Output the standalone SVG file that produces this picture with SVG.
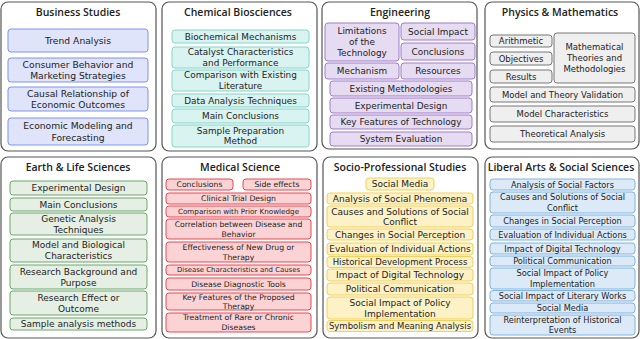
<svg xmlns="http://www.w3.org/2000/svg" width="640" height="339" viewBox="0 0 640 339">
<style>
text{font-family:"DejaVu Sans","Liberation Sans",sans-serif;fill:#222;text-anchor:middle;dominant-baseline:central}
.panel{fill:#fff;stroke:#555;stroke-width:1.2}
.title{font-family:"Open Sans","Noto Sans",sans-serif;font-size:10.5px;font-weight:600}
rect.b{rx:3;stroke-width:1}
.bus{fill:#dfe4fb;stroke:#7f93ec}
.chem{fill:#d9f3f0;stroke:#86d6cc}
.eng{fill:#e6dcf2;stroke:#a07cc8}
.phy{fill:#efefef;stroke:#777}
.earth{fill:#e6efe3;stroke:#6aa86a}
.med{fill:#fbd3d4;stroke:#e84850}
.soc{fill:#fdf2c6;stroke:#f3cf5c}
.lib{fill:#dceaf8;stroke:#7fb3e0}
.t92{font-size:9.2px}
.t9{font-size:9px}
.t89{font-size:8.9px}
.t85{font-size:8.5px}
.t82{font-size:8.2px}
.t77{font-size:7.7px}
.t72{font-size:7.2px}
.t69{font-size:6.9px}
</style>

<g id="panel-business">
<rect class="panel" x="1" y="2" width="155" height="149" rx="7"/>
<text class="title" x="78" y="11.5">Business Studies</text>
<rect class="b bus" x="8" y="29" width="140" height="23"/>
<text class="t92" x="78" y="40.5">Trend Analysis</text>
<rect class="b bus" x="8" y="58" width="140" height="24"/>
<text class="t92" x="78" y="64.5">Consumer Behavior and</text>
<text class="t92" x="78" y="75.5">Marketing Strategies</text>
<rect class="b bus" x="8" y="87" width="140" height="24"/>
<text class="t92" x="78" y="93.5">Causal Relationship of</text>
<text class="t92" x="78" y="104.5">Economic Outcomes</text>
<rect class="b bus" x="8" y="118" width="140" height="27"/>
<text class="t92" x="78" y="125.5">Economic Modeling and</text>
<text class="t92" x="78" y="137">Forecasting</text>
</g>

<g id="panel-chemical">
<rect class="panel" x="162" y="2" width="155" height="149" rx="7"/>
<text class="title" x="238" y="11.5">Chemical Biosciences</text>
<rect class="b chem" x="172" y="30" width="137" height="13"/>
<text class="t89" x="240.5" y="36.5">Biochemical Mechanisms</text>
<rect class="b chem" x="172" y="47" width="137" height="21"/>
<text class="t89" x="240.5" y="52">Catalyst Characteristics</text>
<text class="t89" x="240.5" y="62.5">and Performance</text>
<rect class="b chem" x="172" y="70" width="137" height="21"/>
<text class="t89" x="240.5" y="75">Comparison with Existing</text>
<text class="t89" x="240.5" y="85.5">Literature</text>
<rect class="b chem" x="172" y="94" width="137" height="13"/>
<text class="t89" x="240.5" y="100.5">Data Analysis Techniques</text>
<rect class="b chem" x="172" y="109" width="137" height="14"/>
<text class="t89" x="240.5" y="116">Main Conclusions</text>
<rect class="b chem" x="172" y="125" width="137" height="22"/>
<text class="t89" x="240.5" y="130.5">Sample Preparation</text>
<text class="t89" x="240.5" y="141">Method</text>
</g>

<g id="panel-engineering">
<rect class="panel" x="322" y="2" width="155" height="147" rx="7"/>
<text class="title" x="400" y="11.5">Engineering</text>
<rect class="b eng" x="325" y="23" width="74" height="38"/>
<text class="t89" x="362" y="31">Limitations</text>
<text class="t89" x="362" y="42">of the</text>
<text class="t89" x="362" y="53">Technology</text>
<rect class="b eng" x="401" y="23" width="74" height="17"/>
<text class="t89" x="438" y="31.5">Social Impact</text>
<rect class="b eng" x="401" y="43" width="74" height="17"/>
<text class="t89" x="438" y="51.5">Conclusions</text>
<rect class="b eng" x="325" y="63" width="74" height="16"/>
<text class="t89" x="362" y="71">Mechanism</text>
<rect class="b eng" x="401" y="63" width="74" height="16"/>
<text class="t89" x="438" y="71">Resources</text>
<rect class="b eng" x="330" y="81" width="142" height="15"/>
<text class="t89" x="401" y="88.5">Existing Methodologies</text>
<rect class="b eng" x="330" y="98" width="142" height="15"/>
<text class="t89" x="401" y="105.5">Experimental Design</text>
<rect class="b eng" x="330" y="115" width="142" height="14"/>
<text class="t89" x="401" y="122">Key Features of Technology</text>
<rect class="b eng" x="330" y="132" width="142" height="14"/>
<text class="t89" x="401" y="139">System Evaluation</text>
</g>

<g id="panel-physics">
<rect class="panel" x="485" y="2" width="154" height="147" rx="7"/>
<text class="title" x="560" y="11.5">Physics &amp; Mathematics</text>
<rect class="b phy" x="490" y="35" width="62" height="12"/>
<text class="t85" x="521" y="41">Arithmetic</text>
<rect class="b phy" x="490" y="52" width="62" height="13"/>
<text class="t85" x="521" y="58.5">Objectives</text>
<rect class="b phy" x="490" y="70" width="62" height="13"/>
<text class="t85" x="521" y="76.5">Results</text>
<rect class="b phy" x="554" y="33" width="81" height="50"/>
<text class="t85" x="594.5" y="47">Mathematical</text>
<text class="t85" x="594.5" y="58">Theories and</text>
<text class="t85" x="594.5" y="69">Methodologies</text>
<rect class="b phy" x="490" y="87" width="145" height="15"/>
<text class="t85" x="562.5" y="94.5">Model and Theory Validation</text>
<rect class="b phy" x="490" y="106" width="145" height="16"/>
<text class="t85" x="562.5" y="114">Model Characteristics</text>
<rect class="b phy" x="490" y="126" width="145" height="16"/>
<text class="t85" x="562.5" y="134">Theoretical Analysis</text>
</g>

<g id="panel-earth">
<rect class="panel" x="1" y="157" width="155" height="181" rx="7"/>
<text class="title" x="78" y="167">Earth &amp; Life Sciences</text>
<rect class="b earth" x="10" y="181" width="137" height="14"/>
<text class="t9" x="78.5" y="188">Experimental Design</text>
<rect class="b earth" x="10" y="198" width="137" height="13"/>
<text class="t9" x="78.5" y="204.5">Main Conclusions</text>
<rect class="b earth" x="10" y="213" width="137" height="22"/>
<text class="t9" x="78.5" y="218.5">Genetic Analysis</text>
<text class="t9" x="78.5" y="229.5">Techniques</text>
<rect class="b earth" x="10" y="239" width="137" height="23"/>
<text class="t9" x="78.5" y="245">Model and Biological</text>
<text class="t9" x="78.5" y="256">Characteristics</text>
<rect class="b earth" x="10" y="265" width="137" height="24"/>
<text class="t9" x="78.5" y="271.5">Research Background and</text>
<text class="t9" x="78.5" y="282.5">Purpose</text>
<rect class="b earth" x="10" y="291" width="137" height="24"/>
<text class="t9" x="78.5" y="297.5">Research Effect or</text>
<text class="t9" x="78.5" y="308.5">Outcome</text>
<rect class="b earth" x="10" y="318" width="137" height="12"/>
<text class="t9" x="78.5" y="324">Sample analysis methods</text>
</g>

<g id="panel-medical">
<rect class="panel" x="162" y="157" width="155" height="181" rx="7"/>
<text class="title" x="240" y="167">Medical Science</text>
<rect class="b med" x="166" y="179" width="67" height="11"/>
<text class="t77" x="199.5" y="184.5">Conclusions</text>
<rect class="b med" x="243" y="179" width="68" height="11"/>
<text class="t77" x="277" y="184.5">Side effects</text>
<rect class="b med" x="166" y="193" width="145" height="11"/>
<text class="t77" x="238.5" y="198.5">Clinical Trial Design</text>
<rect class="b med" x="166" y="206" width="145" height="11"/>
<text class="t72" x="238.5" y="211.5">Comparison with Prior Knowledge</text>
<rect class="b med" x="166" y="219" width="145" height="20"/>
<text class="t77" x="238.5" y="224">Correlation between Disease and</text>
<text class="t77" x="238.5" y="234">Behavior</text>
<rect class="b med" x="166" y="242" width="145" height="20"/>
<text class="t77" x="238.5" y="247">Effectiveness of New Drug or</text>
<text class="t77" x="238.5" y="257">Therapy</text>
<rect class="b med" x="166" y="265" width="145" height="10"/>
<text class="t69" x="238.5" y="270">Disease Characteristics and Causes</text>
<rect class="b med" x="166" y="278" width="145" height="12"/>
<text class="t77" x="238.5" y="284">Disease Diagnostic Tools</text>
<rect class="b med" x="166" y="293" width="145" height="17"/>
<text class="t77" x="238.5" y="297">Key Features of the Proposed</text>
<text class="t77" x="238.5" y="306.5">Therapy</text>
<rect class="b med" x="166" y="313" width="145" height="19"/>
<text class="t77" x="238.5" y="317.5">Treatment of Rare or Chronic</text>
<text class="t77" x="238.5" y="327">Diseases</text>
</g>

<g id="panel-socio">
<rect class="panel" x="323" y="157" width="155" height="181" rx="7"/>
<text class="title" x="400" y="167">Socio-Professional Studies</text>
<rect class="b soc" x="366" y="178" width="68" height="12"/>
<text class="t9" x="400" y="184">Social Media</text>
<rect class="b soc" x="327" y="193" width="146" height="11"/>
<text class="t9" x="400" y="198.5">Analysis of Social Phenomena</text>
<rect class="b soc" x="327" y="206" width="146" height="21"/>
<text class="t9" x="400" y="211.5">Causes and Solutions of Social</text>
<text class="t9" x="400" y="222">Conflict</text>
<rect class="b soc" x="327" y="229" width="146" height="11"/>
<text class="t9" x="400" y="234.5">Changes in Social Perception</text>
<rect class="b soc" x="327" y="243" width="146" height="12"/>
<text class="t9" x="400" y="249">Evaluation of Individual Actions</text>
<rect class="b soc" x="327" y="256.5" width="146" height="11"/>
<text class="t85" x="400" y="262">Historical Development Process</text>
<rect class="b soc" x="327" y="269" width="146" height="12"/>
<text class="t9" x="400" y="275">Impact of Digital Technology</text>
<rect class="b soc" x="327" y="283" width="146" height="12"/>
<text class="t9" x="400" y="289">Political Communication</text>
<rect class="b soc" x="327" y="297" width="146" height="22"/>
<text class="t9" x="400" y="302.5">Social Impact of Policy</text>
<text class="t9" x="400" y="313.5">Implementation</text>
<rect class="b soc" x="327" y="320.5" width="146" height="11"/>
<text class="t85" x="400" y="326">Symbolism and Meaning Analysis</text>
</g>

<g id="panel-liberal">
<rect class="panel" x="485" y="157" width="154" height="181" rx="7"/>
<text class="title" x="561" y="167">Liberal Arts &amp; Social Sciences</text>
<rect class="b lib" x="490" y="179" width="145" height="11"/>
<text class="t82" x="562.5" y="184.5">Analysis of Social Factors</text>
<rect class="b lib" x="490" y="192" width="145" height="21"/>
<text class="t82" x="562.5" y="197">Causes and Solutions of Social</text>
<text class="t82" x="562.5" y="207.5">Conflict</text>
<rect class="b lib" x="490" y="215" width="145" height="12"/>
<text class="t82" x="562.5" y="221">Changes in Social Perception</text>
<rect class="b lib" x="490" y="229" width="145" height="11"/>
<text class="t82" x="562.5" y="234.5">Evaluation of Individual Actions</text>
<rect class="b lib" x="490" y="243" width="145" height="11"/>
<text class="t82" x="562.5" y="248.5">Impact of Digital Technology</text>
<rect class="b lib" x="490" y="256" width="145" height="10"/>
<text class="t82" x="562.5" y="261">Political Communication</text>
<rect class="b lib" x="490" y="268" width="145" height="21"/>
<text class="t82" x="562.5" y="273">Social Impact of Policy</text>
<text class="t82" x="562.5" y="283.5">Implementation</text>
<rect class="b lib" x="490" y="290.5" width="145" height="10.5"/>
<text class="t82" x="562.5" y="296">Social Impact of Literary Works</text>
<rect class="b lib" x="490" y="303" width="145" height="10"/>
<text class="t82" x="562.5" y="308">Social Media</text>
<rect class="b lib" x="490" y="315" width="145" height="20"/>
<text class="t82" x="562.5" y="320">Reinterpretation of Historical</text>
<text class="t82" x="562.5" y="330">Events</text>
</g>

<g id="connectors"></g>
</svg>
